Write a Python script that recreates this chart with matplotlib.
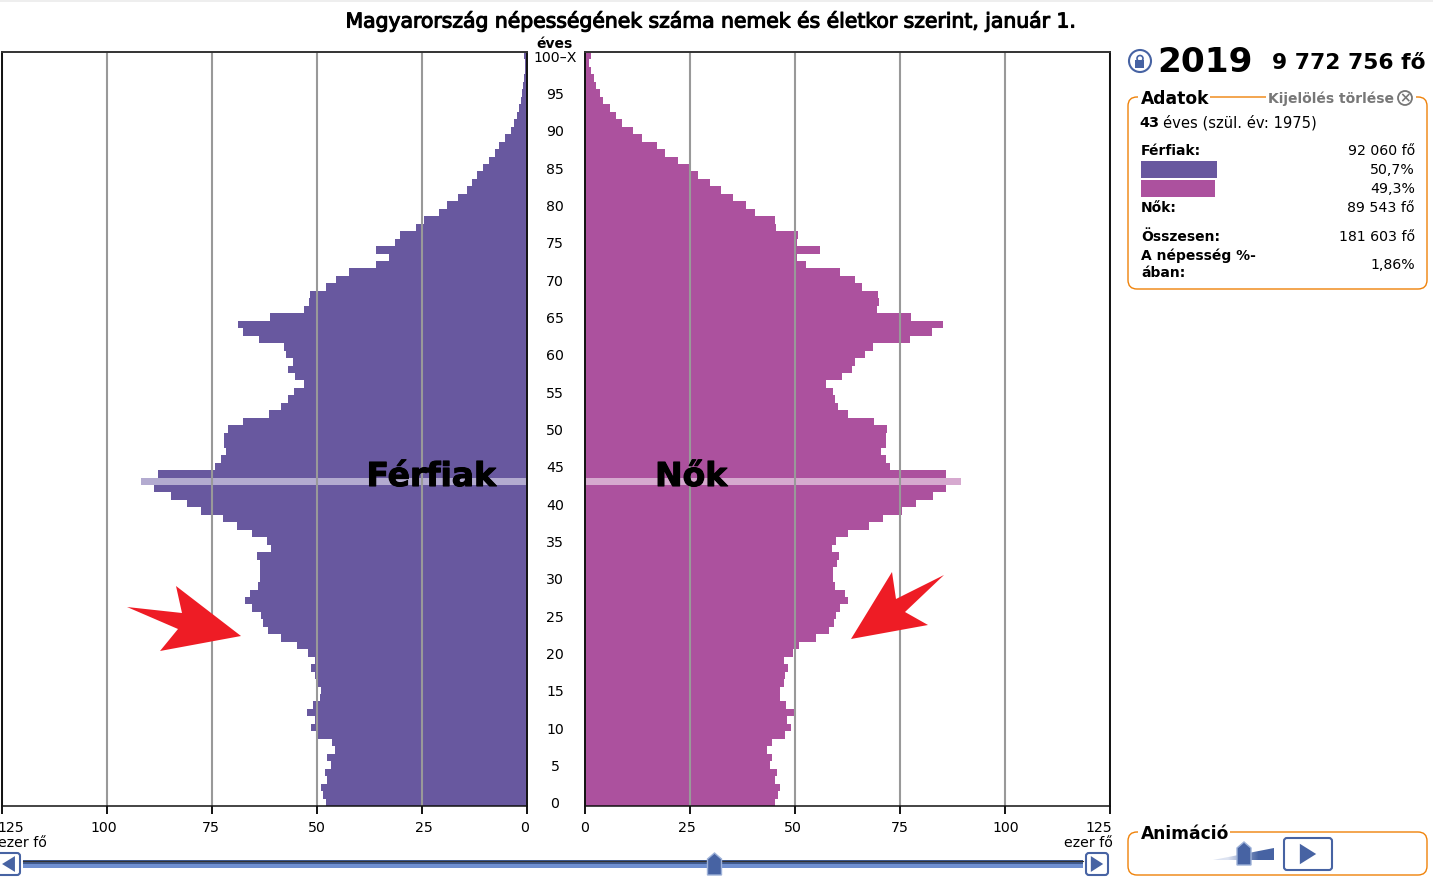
import numpy as np
import matplotlib
matplotlib.use("Agg")
import matplotlib.pyplot as plt
import matplotlib.patheffects as pe
from matplotlib.patches import FancyBboxPatch, Polygon, Circle, Rectangle

# Ezer fő, életkor szerint: 0 ... 100-X
kor = np.arange(0, 101)
ferfiak = [47.9, 48.5, 49.0, 47.6, 48.1, 46.7, 47.6, 45.8, 46.4, 49.9,
           51.4, 50.5, 52.4, 51.0, 49.3, 49.0, 49.9, 50.4, 51.4, 50.5,
           52.1, 54.8, 58.6, 61.7, 62.9, 63.4, 65.5, 67.2, 66.0, 64.1,
           63.6, 63.6, 63.6, 64.3, 61.0, 61.9, 65.5, 69.1, 72.4, 77.7,
           81.0, 84.8, 88.9, 92.06, 87.9, 74.3, 72.8, 71.6, 72.2, 72.2,
           71.2, 67.6, 61.4, 58.6, 56.9, 55.5, 53.1, 55.2, 56.9, 55.7,
           57.4, 58.0, 63.8, 67.6, 68.8, 61.2, 53.1, 51.9, 51.7, 47.9,
           45.5, 42.4, 35.9, 32.8, 35.9, 31.4, 30.3, 26.4, 24.5, 21.0,
           19.1, 16.4, 14.3, 13.1, 11.9, 10.5, 9.0, 7.7, 6.6, 5.2,
           3.9, 3.1, 2.4, 1.9, 1.4, 1.1, 0.9, 0.7, 0.5, 0.4, 0.6]
nok = [45.2, 46.0, 46.4, 45.2, 45.7, 44.0, 44.5, 43.4, 44.5, 47.6,
       49.1, 48.1, 49.7, 47.9, 46.4, 46.3, 47.4, 47.6, 48.3, 47.4,
       49.5, 50.9, 55.0, 58.1, 59.3, 59.8, 60.7, 62.6, 61.9, 59.5,
       59.1, 59.1, 60.0, 60.5, 58.9, 59.8, 62.6, 67.6, 71.0, 75.6,
       78.9, 82.9, 86.0, 89.54, 86.0, 72.7, 71.6, 70.5, 71.6, 71.7,
       71.9, 68.8, 62.6, 60.3, 59.5, 59.1, 57.4, 61.2, 63.6, 64.3,
       66.7, 68.6, 77.4, 82.7, 85.3, 77.7, 69.6, 70.0, 69.8, 66.0,
       64.3, 60.7, 52.6, 50.5, 56.0, 50.5, 50.7, 45.5, 45.2, 40.5,
       38.3, 35.2, 32.4, 29.7, 26.9, 24.7, 22.1, 19.0, 17.1, 13.5,
       11.4, 8.7, 7.3, 5.9, 4.2, 3.5, 2.5, 2.1, 1.35, 0.95, 1.3]
kijelolt = 43

skala = [0, 25, 50, 75, 100, 125]
kor_cimkek = list(range(0, 100, 5))

SZ, M = 1433, 881
KEK = "#4763a3"
NARANCS = "#ef8209"
LILA = "#68589f"
MAGENTA = "#ac519e"


def tengely(bal, jobb, fent, lent):
    # pixel koordinatak -> figure koordinatak
    return fig.add_axes([bal / SZ, 1 - lent / M, (jobb - bal) / SZ, (lent - fent) / M])


def oldal(ax, ertekek, szin, halvany):
    szinek = [halvany if k == kijelolt else szin for k in kor]
    ax.barh(kor, ertekek, height=1.0, color=szinek, linewidth=0, zorder=2)
    ax.set_ylim(-0.5, 100.5)
    ax.set_yticks([])
    ax.set_xticks(skala)
    ax.set_xticklabels([])
    ax.tick_params(axis="x", length=6, width=1.3, color="black")
    ax.grid(axis="x", color="#999999", linewidth=1.5, zorder=3)
    ax.set_axisbelow(False)
    for s in ax.spines.values():
        s.set_linewidth(1.4)
        s.set_color("#111111")
        s.set_zorder(4)
    ax.spines["top"].set_color("#333333")
    ax.spines["bottom"].set_linewidth(1.1)


fig = plt.figure(figsize=(SZ / 100, M / 100), dpi=100)

bal_ax = tengely(2.3, 527, 52, 806)
bal_ax.set_xlim(125, 0)
oldal(bal_ax, ferfiak, LILA, "#b3abd0")

jobb_ax = tengely(585.4, 1109.5, 52, 806)
jobb_ax.set_xlim(0, 125)
oldal(jobb_ax, nok, MAGENTA, "#d6a9cf")

# minden mas pixelben
ax = fig.add_axes([0, 0, 1, 1], facecolor="none")
ax.set_xlim(0, SZ)
ax.set_ylim(M, 0)
ax.axis("off")


def szoveg(x, y, s, meret=10.2, vastag=False, ha="left", szin="black"):
    return ax.text(x, y, s, fontsize=meret, fontweight="bold" if vastag else "normal",
                   ha=ha, va="center", color=szin)


ax.add_patch(Rectangle((0, 0), SZ, 2, color="#eeeeee", linewidth=0))
cim = szoveg(712.5, 21.5, "Magyarország népességének száma nemek és életkor szerint, január 1.", 14.65, ha="center")
cim.set_path_effects([pe.withStroke(linewidth=0.8, foreground="black")])

szoveg(555, 44, "éves", 10, True, ha="center")
szoveg(555, 58.5, "100–X", 10.2, ha="center")
for k in kor_cimkek:
    szoveg(555, 806 - (k + 0.5) * 7.465 + 2, str(k), 10.2, ha="center")

bal_cimke_x = [525, 424, 317, 211, 104, 11]
jobb_cimke_x = [585, 687, 793, 900, 1006, 1099]
for v, x1, x2 in zip(skala, bal_cimke_x, jobb_cimke_x):
    szoveg(x1, 828.5, str(v), 10.2, ha="center")
    szoveg(x2, 828.5, str(v), 10.2, ha="center")
szoveg(-2, 843, "ezer fő", 10.2)
szoveg(1113, 843, "ezer fő", 10.2, ha="right")

for x, s in [(431, "Férfiak"), (691, "Nők")]:
    t = szoveg(x, 476.5, s, 23.7, True, ha="center")
    t.set_path_effects([pe.withStroke(linewidth=0.8, foreground="black")])

# piros nyilak
ax.add_patch(Polygon([(127, 607), (182, 613), (176, 586), (241, 636), (160, 651), (178, 629)],
                     closed=True, color="#ee1c25", linewidth=0, zorder=6))
ax.add_patch(Polygon([(944, 575), (896, 599), (892, 572), (851, 639), (928, 625), (905, 612)],
                     closed=True, color="#ee1c25", linewidth=0, zorder=6))

# also csuszka
gradiens = np.array([[0.0], [1.0]])
cmap = matplotlib.colors.LinearSegmentedColormap.from_list("csuszka", ["#3f5a8f", "#6f8fd0"])
ax.imshow(gradiens, extent=(23, 1083, 868, 860), cmap=cmap, aspect="auto", zorder=3)
ax.plot([23, 1083], [860.5, 860.5], color="#333333", linewidth=0.8, zorder=4)


def gomb(x0, x1, y0, y1, jobbra=True, dsz=0.28, hsz=0.36):
    ax.add_patch(FancyBboxPatch((x0 + 2, y0 + 2), x1 - x0 - 4, y1 - y0 - 4, boxstyle="round,pad=2,rounding_size=3",
                                fc="white", ec=KEK, lw=1.5, zorder=5))
    kx = (x0 + x1) / 2
    ky = (y0 + y1) / 2
    d = (x1 - x0) * dsz
    h = (y1 - y0) * hsz
    if jobbra:
        pontok = [(kx - d, ky - h), (kx + d, ky), (kx - d, ky + h)]
    else:
        pontok = [(kx + d, ky - h), (kx - d, ky), (kx + d, ky + h)]
    ax.add_patch(Polygon(pontok, closed=True, color=KEK, linewidth=0, zorder=6))


def huzoka(x, fent, lent):
    ax.add_patch(Polygon([(x - 7, fent + 6), (x, fent), (x + 7, fent + 6), (x + 7, lent), (x - 7, lent)],
                         closed=True, fc=KEK, ec="#9db1d8", lw=1, zorder=7))


gomb(-3, 20, 853, 875, jobbra=False)
gomb(1086, 1108, 853, 875)
huzoka(714.5, 853, 875)

# Adatok doboz
ax.add_patch(FancyBboxPatch((1136, 105), 283, 176, boxstyle="round,pad=8,rounding_size=9",
                            fc="white", ec=NARANCS, lw=1.0, zorder=2))
ax.add_patch(Rectangle((1138, 92), 72, 10, color="white", linewidth=0, zorder=3))
ax.add_patch(Rectangle((1266, 92), 150, 10, color="white", linewidth=0, zorder=3))

ax.add_patch(Circle((1140, 61), 11, fc="white", ec=KEK, lw=1.5, zorder=3))
ax.add_patch(Rectangle((1135.5, 60), 9, 7.5, color=KEK, linewidth=0, zorder=4))
ax.add_patch(Circle((1140, 58.5), 3, fc="none", ec=KEK, lw=1.2, zorder=4))

szoveg(1157, 62, "2019", 24.7, True)
szoveg(1272, 63, "9 772 756 fő", 15.7, True)
szoveg(1141, 99, "Adatok", 12.3, True)
szoveg(1268, 99, "Kijelölés törlése", 10, True, szin="#777777")
ax.add_patch(Circle((1405, 98), 7, fc="white", ec="#777777", lw=1.3, zorder=4))
szoveg(1405, 98, "×", 10, True, ha="center", szin="#777777").set_zorder(5)

# ugyanazon az alapvonalon
szoveg(1139, 127, "43", 10.4, True).set_va("baseline")
szoveg(1163, 127, "éves (szül. év: 1975)", 10.6).set_va("baseline")

ax.add_patch(Rectangle((1141, 161), 76, 17, color=LILA, linewidth=0, zorder=3))
ax.add_patch(Rectangle((1141, 180), 74, 17, color=MAGENTA, linewidth=0, zorder=3))

szoveg(1141, 151, "Férfiak:", 10, True)
szoveg(1141, 208, "Nők:", 10, True)
szoveg(1141, 237, "Összesen:", 10, True)
szoveg(1141, 256, "A népesség %-", 10, True)
szoveg(1141, 273, "ában:", 10, True)
szoveg(1415, 151, "92 060 fő", 10.2, ha="right")
szoveg(1415, 170, "50,7%", 10.2, ha="right")
szoveg(1415, 189, "49,3%", 10.2, ha="right")
szoveg(1415, 208, "89 543 fő", 10.2, ha="right")
szoveg(1415, 237, "181 603 fő", 10.2, ha="right")
szoveg(1415, 265, "1,86%", 10.2, ha="right")

# Animacio doboz
ax.add_patch(FancyBboxPatch((1136, 840), 283, 27, boxstyle="round,pad=8,rounding_size=9",
                            fc="white", ec=NARANCS, lw=1.0, zorder=2))
ax.add_patch(Rectangle((1138, 826), 92, 10, color="white", linewidth=0, zorder=3))
szoveg(1141, 834, "Animáció", 12.3, True).set_zorder(4)

ek = Polygon([(1213, 860), (1274, 848), (1274, 860)], closed=True, transform=ax.transData, fc="none", ec="none")
ax.add_patch(ek)
cmap2 = matplotlib.colors.LinearSegmentedColormap.from_list("ek", ["#dde3f1", KEK])
kep = ax.imshow(np.array([[0.0, 1.0]]), extent=(1213, 1274, 862, 847), cmap=cmap2, aspect="auto",
                interpolation="bilinear", zorder=3)
kep.set_clip_path(ek)
huzoka(1244, 842, 865)
gomb(1284, 1332, 838, 870, dsz=0.17, hsz=0.32)

ax.set_xlim(0, SZ)
ax.set_ylim(M, 0)

fig.savefig("out.png", dpi=100)
